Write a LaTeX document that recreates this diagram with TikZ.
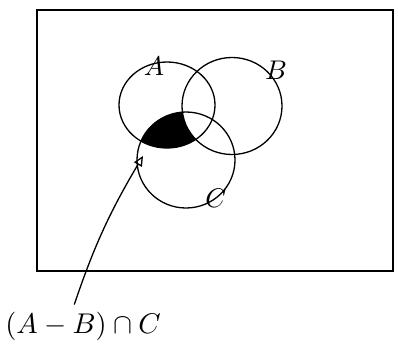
\documentclass[tikz,border=0pt]{standalone}
\usepackage{tikz}
\usetikzlibrary{arrows.meta,positioning,shapes.geometric}
\tikzset{
set_shape/.style={ellipse, draw, line width=1.3pt, inner sep=0pt},
set_name/.style={font=\normalsize, scale=2.7, inner sep=0.5pt},
universe/.style={draw, line width=1.3pt},
op_label/.style={font=\normalsize, scale=2.85, inner sep=1pt}
}

\begin{document}
\begin{tikzpicture}[x=1pt, y=-1pt]
    \useasboundingbox (0,0) rectangle (398,356);
    \draw[universe] (37,10) rectangle (393,271);
    % the three sets
    \node[set_shape, minimum width=96pt, minimum height=86pt] (setA) at (167,105) {};
    \node[set_shape, minimum width=100pt, minimum height=97pt] (setB) at (232,106) {};
    \node[set_shape, minimum width=98pt, minimum height=96pt] (setC) at (186,160) {};
    \node[set_name] (nameA) at (154,66) {$A$};
    \node[set_name] (nameB) at (276,70) {$B$};
    \node[set_name] (nameC) at (216,198) {$C$};
    % (A-B) n C
    \begin{scope}
        \clip (setA.center) ellipse [x radius=48pt, y radius=43pt];
        \clip (setC.center) ellipse [x radius=49pt, y radius=48pt];
        \fill[black, even odd rule] (0,0) rectangle (398,356)
            (setB.center) ellipse [x radius=50pt, y radius=48.5pt];
    \end{scope}
    \node[op_label] (result) at (83,326) {$(A-B)\cap C$};
    \coordinate (tip) at (143,156);
    \draw[-{Triangle[open, length=10pt, width=9pt]}, line width=1.3pt, shorten <=4pt]
        ([xshift=-10pt]result.north) to[bend left=6] (tip);
\end{tikzpicture}
\end{document}
